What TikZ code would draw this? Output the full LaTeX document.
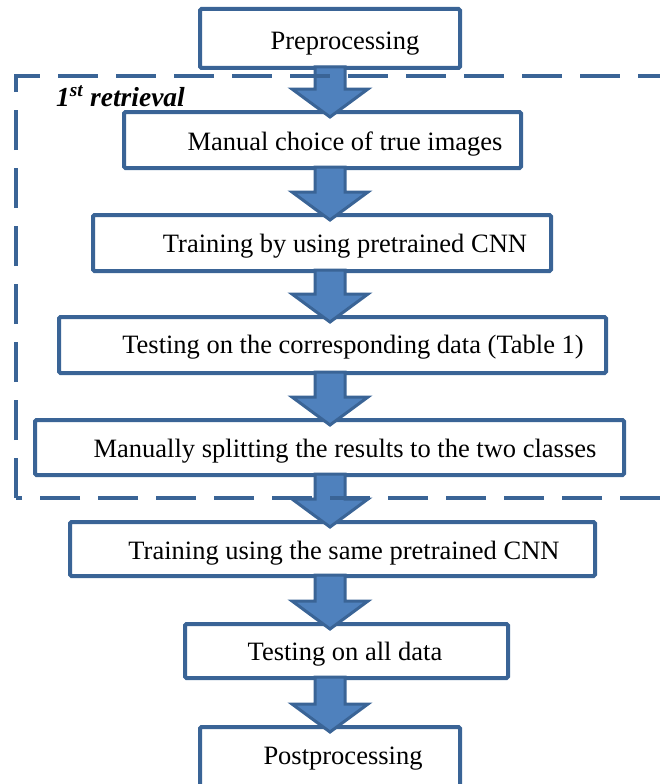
\documentclass[tikz,border=0pt]{standalone}
\usepackage{fontspec}
\setmainfont{Liberation Serif}
\usetikzlibrary{calc}
\definecolor{boxblue}{HTML}{3A6496}
\definecolor{arrowfill}{HTML}{4F81BD}
\tikzset{
  stepbox/.style={draw=boxblue, line width=4pt, rounded corners=1.5pt, fill=white, inner sep=0pt},
  steptext/.style={anchor=base, inner sep=0pt, font=\fontsize{26.5}{30}\selectfont},
  blockarrow/.style={draw=boxblue, line width=3pt, fill=arrowfill, line join=miter},
  groupbox/.style={draw=boxblue, line width=4.5pt, dash pattern=on 40pt off 18pt},
}
\newcommand\barrow[2]{%
  \path[blockarrow] let \p1=(#1.south), \p2=(#2.north) in
    (315pt,\y1+3pt) -- (345pt,\y1+3pt) -- (345pt,\y2+21pt) -- (368pt,\y2+21pt)
    -- (330pt,\y2-7pt) -- (292pt,\y2+21pt) -- (315pt,\y2+21pt) -- cycle;}
\begin{document}
\begin{tikzpicture}[x=1pt,y=-1pt]
\useasboundingbox (0,0) rectangle (660,784);
\clip (0,0) rectangle (660,784);
% boxes
\node[stepbox, minimum width=260pt, minimum height=59pt] (b1) at (330,38.5) {};
\node[stepbox, minimum width=397pt, minimum height=56pt] (b2) at (322.5,140) {};
\node[stepbox, minimum width=458pt, minimum height=56pt] (b3) at (322,243) {};
\node[stepbox, minimum width=547pt, minimum height=56pt] (b4) at (332.5,345) {};
\node[stepbox, minimum width=589pt, minimum height=55pt] (b5) at (329.5,447.5) {};
\node[stepbox, minimum width=525pt, minimum height=54pt] (b6) at (332.5,549) {};
\node[stepbox, minimum width=323pt, minimum height=54pt] (b7) at (346.5,651) {};
\node[stepbox, minimum width=260pt, minimum height=61pt] (b8) at (330,757.5) {};
% texts
\node[steptext] (t1) at (345,49) {Preprocessing};
\node[steptext] (t2) at (345,150) {Manual choice of true images};
\node[steptext] (t3) at (345,252) {Training by using pretrained CNN};
\node[steptext] (t4) at (353,353) {Testing on the corresponding data (Table 1)};
\node[steptext] (t5) at (345,457) {Manually splitting the results to the two classes};
\node[steptext] (t6) at (344,559) {Training using the same pretrained CNN};
\node[steptext] (t7) at (345,660) {Testing on all data};
\node[steptext] (t8) at (343,764) {Postprocessing};
% arrows
\barrow{b1}{b2}
\barrow{b2}{b3}
\barrow{b3}{b4}
\barrow{b4}{b5}
\barrow{b5}{b6}
\barrow{b6}{b7}
\barrow{b7}{b8}
% group
\draw[groupbox] (16,498) -- (16,76) -- (670,76) -- (670,498) -- cycle;
\node[anchor=base west, inner sep=0pt, font=\fontsize{27.5}{30}\selectfont\bfseries\itshape] (lbl) at (56,106) {1\textsuperscript{st} retrieval};
\end{tikzpicture}
\end{document}
